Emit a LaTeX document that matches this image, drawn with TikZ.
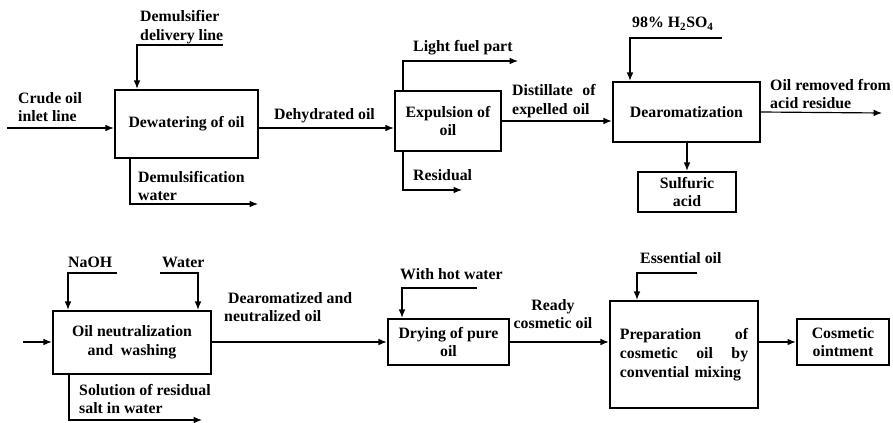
\documentclass[tikz,border=0pt]{standalone}
\usepackage{fontspec}
\setmainfont{Liberation Serif}
\usetikzlibrary{arrows.meta,positioning}

\begin{document}
\begin{tikzpicture}[x=0.03cm,y=-0.03cm]
\tikzset{
  procbox/.style={draw=black,line width=2pt,align=center,inner sep=2pt,font=\fontsize{13.5}{16}\selectfont\bfseries},
  flowlabel/.style={inner sep=0pt,align=left,font=\fontsize{13.5}{16}\selectfont\bfseries},
  flowline/.style={draw=black,line width=1pt,line join=miter},
  flow/.style={flowline,-{Latex[length=2.5mm,width=2mm]}}
}
\useasboundingbox (0,0) rectangle (893,423);
\node[procbox,minimum width=4.29cm,minimum height=2.04cm] (n_dewater) at (186.5,124) {Dewatering of oil};
\node[procbox,minimum width=3.18cm,minimum height=1.80cm] (n_expel) at (448,121) {Expulsion of\\oil};
\node[procbox,minimum width=4.41cm,minimum height=1.80cm] (n_dearom) at (686.5,112) {Dearomatization};
\node[procbox,minimum width=2.94cm,minimum height=1.20cm] (n_sulf) at (687,192) {Sulfuric\\acid};
\node[procbox,minimum width=4.74cm,minimum height=1.89cm] (n_neutral) at (132,342.5) {Oil neutralization\\and\ \ washing};
\node[procbox,minimum width=3.63cm,minimum height=1.38cm] (n_dry) at (448.5,342) {Drying of pure\\oil};
\node[procbox,minimum width=4.44cm,minimum height=3.21cm,align=left,text width=3.85cm] (n_prep) at (684,354.5) {Preparation\hfill of\\cosmetic\hfill oil\hfill by\\convential mixing};
\node[procbox,minimum width=2.76cm,minimum height=1.38cm] (n_oint) at (843,342) {Cosmetic\\ointment};
\node[flowlabel,anchor=west] (l_crude) at (18,107) {Crude oil\\inlet line};
\node[flowlabel,anchor=west] (l_demul) at (140,27) {Demulsifier\\delivery line};
\node[flowlabel,anchor=west] (l_water1) at (138,186) {Demulsification\\water};
\node[flowlabel,anchor=west] (l_dehyd) at (274,116) {Dehydrated oil};
\node[flowlabel,anchor=west] (l_light) at (413,48) {Light fuel part};
\node[flowlabel,anchor=west] (l_resid) at (413,175) {Residual};
\node[flowlabel,anchor=west,text width=2.5cm] (l_distil) at (512,101) {Distillate\hfill of\\expelled oil};
\node[flowlabel,anchor=west] (l_acid) at (632,24) {98\% H\textsubscript{2}SO\textsubscript{4}};
\node[flowlabel,anchor=west] (l_removed) at (770,94) {Oil removed from\\acid residue};
\node[flowlabel,anchor=west] (l_naoh) at (68,262) {NaOH};
\node[flowlabel,anchor=west] (l_water2) at (162,262) {Water};
\node[flowlabel,anchor=west] (l_salt) at (79,399) {Solution of residual\\salt in water};
\node[flowlabel,anchor=west] (l_neutoil) at (224,307) {\ Dearomatized and\\neutralized oil};
\node[flowlabel,anchor=west] (l_hot) at (400,274) {With hot water};
\node[flowlabel,align=center] (l_ready) at (553,314) {Ready\\cosmetic oil};
\node[flowlabel,anchor=west] (l_ess) at (640,258) {Essential oil};
\coordinate (c_crude) at (7,128);
\coordinate (c_demul) at (223,45);
\coordinate (c_demulk) at (137,45);
\coordinate (c_water1k) at (130,204);
\coordinate (c_water1) at (258,204);
\coordinate (c_lightk) at (403,61);
\coordinate (c_light) at (518,61);
\coordinate (c_residk) at (403,190);
\coordinate (c_resid) at (462,190);
\coordinate (c_acid) at (722,38);
\coordinate (c_acidk) at (630,38);
\coordinate (c_removed) at (882,113);
\coordinate (c_feed) at (23,342);
\coordinate (c_naoh) at (117,273);
\coordinate (c_naohk) at (68,273);
\coordinate (c_water2) at (160,273);
\coordinate (c_water2k) at (198,273);
\coordinate (c_saltk) at (69,420);
\coordinate (c_salt) at (202,420);
\coordinate (c_hot) at (477,288);
\coordinate (c_hotk) at (402,288);
\coordinate (c_ess) at (697,273);
\coordinate (c_essk) at (637,273);
\draw[flow] (c_crude) -- (c_crude -| n_dewater.west);
\draw[flow] (c_demul) -- (c_demulk) -- (c_demulk |- n_dewater.north);
\draw[flow] (c_water1k |- n_dewater.south) -- (c_water1k) -- (c_water1);
\draw[flow] (n_dewater.east |- c_crude) -- (n_expel.west |- c_crude);
\draw[flow] (c_lightk |- n_expel.north) -- (c_lightk) -- (c_light);
\draw[flow] (c_residk |- n_expel.south) -- (c_residk) -- (c_resid);
\draw[flow] (n_expel.east) -- (n_expel.east -| n_dearom.west);
\draw[flow] (c_acid) -- (c_acidk) -- (c_acidk |- n_dearom.north);
\draw[flow] (n_dearom.east) -- (c_removed);
\draw[flow] (n_dearom.south -| n_sulf.north) -- (n_sulf.north);
\draw[flow] (c_feed) -- (c_feed -| n_neutral.west);
\draw[flow] (c_naoh) -- (c_naohk) -- (c_naohk |- n_neutral.north);
\draw[flow] (c_water2) -- (c_water2k) -- (c_water2k |- n_neutral.north);
\draw[flow] (c_saltk |- n_neutral.south) -- (c_saltk) -- (c_salt);
\draw[flow] (n_neutral.east |- c_feed) -- (n_dry.west |- c_feed);
\draw[flow] (c_hot) -- (c_hotk) -- (c_hotk |- n_dry.north);
\draw[flow] (n_dry.east) -- (n_dry.east -| n_prep.west);
\draw[flow] (c_ess) -- (c_essk) -- (c_essk |- n_prep.north);
\draw[flow] (n_dry.east -| n_prep.east) -- (n_oint.west);
\end{tikzpicture}
\end{document}
